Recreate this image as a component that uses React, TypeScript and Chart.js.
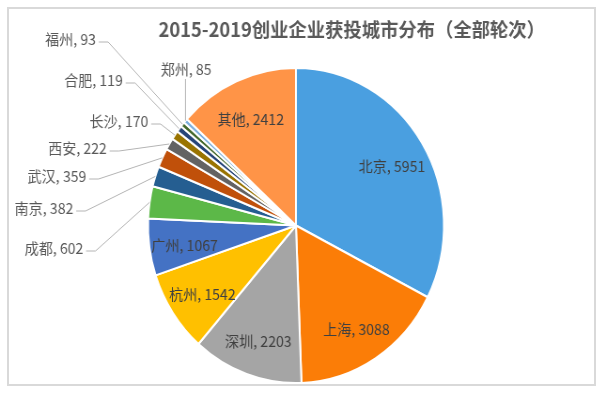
import { useEffect, useRef } from "react";
import { Chart, registerables } from "chart.js";

Chart.register(...registerables);

// ---- data ----
const cities = ["北京", "上海", "深圳", "杭州", "广州", "成都", "南京", "武汉", "西安", "长沙", "合肥", "福州", "郑州", "其他"];
const counts = [5951, 3088, 2203, 1542, 1067, 602, 382, 359, 222, 170, 119, 93, 85, 2412];
const titleText = "2015-2019创业企业获投城市分布（全部轮次）";

// ---- styles ----
const sliceColors = [
  "#4a9fe0", "#fb7d07", "#a5a5a5", "#ffc000", "#4472c4", "#5cb848", "#255e91",
  "#c0500a", "#636363", "#997300", "#264478", "#43682b", "#7cafdd", "#ff9447",
];
const FONT = '"Noto Sans CJK SC", "Noto Sans", sans-serif';
const LABEL_SIZE = 15;
const INSIDE_RATIO = 0.76;
// label centres of the outside labels, relative to the pie centre (logical px)
const outsideLabelOffsets: Record<string, [number, number]> = {
  成都: [-257.6, 22.5],
  南京: [-268.2, -17.5],
  武汉: [-254.4, -49.5],
  西安: [-232.6, -77.5],
  长沙: [-188.4, -104.5],
  合肥: [-215.5, -145.5],
  福州: [-240, -186.5],
  郑州: [-117, -156],
};

const LOGICAL_W = 645;
const H = 395;
const SX = 606 / LOGICAL_W;

export default function App() {
  const ref = useRef<HTMLCanvasElement>(null);

  useEffect(() => {
    if (!ref.current) return;
    const labelPlugin = {
      id: "sliceLabels",
      afterDatasetsDraw(chart: any) {
        const ctx = chart.ctx as CanvasRenderingContext2D;
        const meta = chart.getDatasetMeta(0);
        ctx.save();
        ctx.font = `${LABEL_SIZE}px ${FONT}`;
        ctx.textBaseline = "middle";
        ctx.textAlign = "center";
        meta.data.forEach((el: any, i: number) => {
          const { x, y, startAngle, endAngle, outerRadius } = el.getProps(
            ["x", "y", "startAngle", "endAngle", "outerRadius"],
            true
          );
          const mid = (startAngle + endAngle) / 2;
          const text = `${cities[i]}, ${counts[i]}`;
          const off = outsideLabelOffsets[cities[i]];
          if (!off) {
            const r = outerRadius * INSIDE_RATIO;
            ctx.fillStyle = "#404040";
            ctx.fillText(text, x + Math.cos(mid) * r, y + Math.sin(mid) * r + 3);
          } else {
            const tx = x + off[0];
            const ty = y + off[1];
            ctx.fillStyle = "#595959";
            ctx.fillText(text, tx, ty);
            const w = ctx.measureText(text).width;
            const ex = x + Math.cos(mid) * outerRadius;
            const ey = y + Math.sin(mid) * outerRadius;
            ctx.strokeStyle = "#b4b4b4";
            ctx.lineWidth = 1;
            ctx.beginPath();
            if (Math.abs(tx - ex) < w / 2) {
              ctx.moveTo(ex, ty + LABEL_SIZE / 2 + 2);
              ctx.lineTo(ex, ey);
            } else {
              const sx = tx + w / 2 + 3;
              const sy = ty + 3;
              ctx.moveTo(sx, sy);
              ctx.lineTo(sx + 10, sy);
              ctx.lineTo(ex, ey);
            }
            ctx.stroke();
          }
        });
        ctx.restore();
      },
    };

    const chart = new Chart(ref.current, {
      type: "pie",
      data: {
        labels: cities,
        datasets: [
          {
            data: counts,
            backgroundColor: sliceColors,
            borderColor: "#ffffff",
            borderWidth: 2,
          },
        ],
      },
      options: {
        animation: false,
        responsive: true,
        maintainAspectRatio: false,
        layout: { padding: { left: 50, right: 65, top: 0, bottom: 11 } },
        plugins: {
          legend: { display: false },
          tooltip: { enabled: false },
          title: {
            display: true,
            text: titleText,
            align: "end",
            color: "#595959",
            font: { family: FONT, size: 19.5, weight: "bold", lineHeight: 1.2 },
            padding: { top: 17.5, bottom: 26.1 },
          },
        },
      },
      plugins: [labelPlugin],
    });
    return () => chart.destroy();
  }, []);

  return (
    <div style={{ position: "fixed", left: 0, top: 0, width: 606, height: H, background: "#fff", overflow: "hidden" }}>
      <div
        style={{
          position: "absolute",
          left: 7,
          top: 7,
          width: 589,
          height: 379,
          boxSizing: "border-box",
          border: "2px solid #d9d9d9",
        }}
      />
      <div
        style={{
          position: "absolute",
          left: 0,
          top: 0,
          width: LOGICAL_W,
          height: H,
          transform: `scaleX(${SX})`,
          transformOrigin: "0 0",
        }}
      >
        <canvas ref={ref} />
      </div>
    </div>
  );
}
